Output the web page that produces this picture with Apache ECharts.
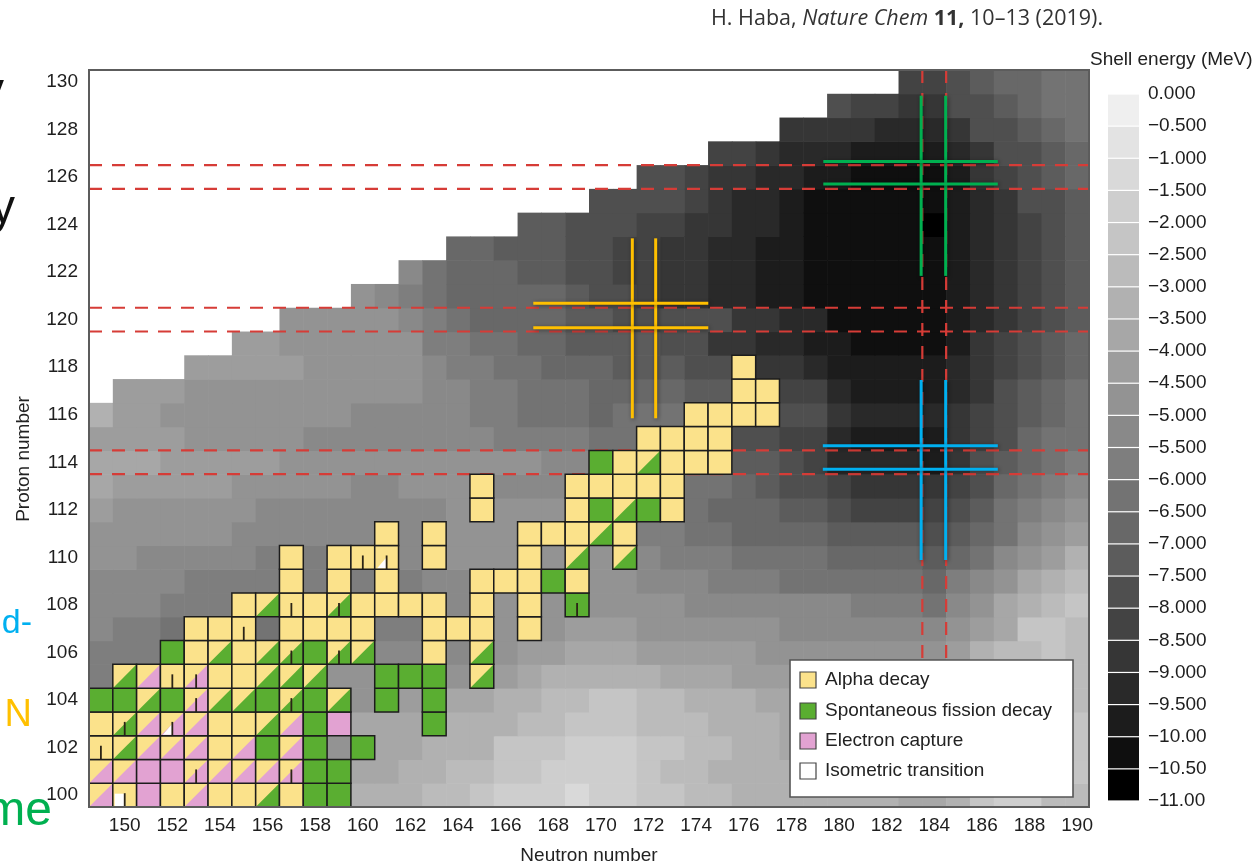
<!DOCTYPE html>
<html><head><meta charset="utf-8">
<script src="https://cdn.jsdelivr.net/npm/echarts@6/dist/echarts.min.js"></script>
<style>html,body{margin:0;padding:0;background:#fff}#chart{width:1258px;height:862px}</style>
</head><body><div id="chart"></div>
<script>
// ---------- DATA ----------
const neutronTicks = [150,152,154,156,158,160,162,164,166,168,170,172,174,176,178,180,182,184,186,188,190];
const protonTicks = [100,102,104,106,108,110,112,114,116,118,120,122,124,126,128,130];
const protonNumbers = [100,101,102,103,104,105,106,107,108,109,110,111,112,113,114,115,116,117,118,119,120,121,122,123,124,125,126,127,128,129,130];
// first neutron number with a computed value in each proton row (cells to the left are blank)
const firstNeutron = [149,149,149,149,149,149,149,149,149,149,149,149,149,149,149,149,149,150,153,155,157,160,162,164,167,170,172,175,178,180,183];
// shell energy (MeV), one row per proton number, starting at firstNeutron
const shellEnergy = [
 /*100*/[-4.6,-4.6,-4.6,-4.5,-4.4,-4.3,-4.2, -4.1,-4.0,-3.8,-3.6,-3.3,-3.2,-3.3, -2.6,-2.6,-2.1,-1.9,-1.9,-1.9,-1.2, -1.7,-1.8,-2.2,-2.4,-2.6,-2.9,-3.2, -3.3,-3.4,-3.4,-3.2,-3.2,-3.2,-3.7, -3.7,-3.0,-2.0,-1.8,-1.8,-2.5,-2.5],
 /*101*/[-4.8,-4.8,-4.8,-4.7,-4.6,-4.5,-4.4, -4.3,-4.2,-4.0,-3.8,-3.5,-3.5,-3.4, -3.3,-2.8,-2.7,-2.2,-2.1,-1.8,-1.7, -1.8,-1.9,-2.2,-2.5,-2.8,-3.0,-3.1, -3.3,-3.4,-3.4,-3.4,-3.3,-3.2,-3.1, -3.0,-2.7,-2.4,-2.2,-2.2,-2.3,-2.4],
 /*102*/[-5.0,-5.0,-5.0,-5.0,-4.9,-4.8,-4.7, -4.6,-4.6,-4.5,-4.5,-4.0,-3.7,-3.7, -3.4,-3.4,-3.3,-2.4,-2.3,-2.1,-1.8, -1.7,-1.8,-2.2,-2.4,-2.7,-2.9,-3.1, -3.3,-3.5,-3.5,-3.5,-3.5,-3.4,-3.3, -3.2,-2.9,-2.6,-2.4,-2.3,-2.2,-2.3],
 /*103*/[-5.3,-5.3,-5.3,-5.2,-5.2,-5.0,-4.9, -4.8,-4.6,-4.4,-4.2,-3.9,-3.9,-3.9, -3.7,-3.4,-3.3,-3.1,-2.7,-2.6,-2.2, -2.1,-2.2,-2.5,-2.7,-2.9,-3.1,-3.3, -3.4,-3.6,-3.7,-3.7,-3.7,-3.6,-3.5, -3.4,-3.1,-2.8,-2.6,-2.4,-2.3,-2.4],
 /*104*/[-5.5,-5.5,-5.5,-5.5,-5.4,-5.3,-5.2, -5.0,-4.9,-4.7,-4.6,-4.5,-4.3,-4.2, -4.0,-3.7,-3.6,-3.1,-3.0,-2.7,-2.6, -2.3,-2.3,-2.6,-2.8,-3.0,-3.1,-3.4, -3.6,-3.9,-4.0,-4.0,-4.0,-4.0,-3.9, -3.8,-3.4,-3.0,-2.7,-2.5,-2.4,-2.5],
 /*105*/[-5.7,-5.8,-5.8,-5.8,-5.8,-5.7,-5.6, -5.5,-5.3,-5.0,-4.6,-4.5,-4.6,-4.6, -4.6,-4.5,-4.3,-4.1,-3.5,-3.4,-3.1, -3.1,-3.2,-3.4,-3.5,-3.6,-3.8,-4.0, -4.2,-4.4,-4.4,-4.4,-4.4,-4.4,-4.3, -4.3,-3.8,-3.2,-2.8,-2.5,-2.4,-2.5],
 /*106*/[-5.7,-5.7,-5.7,-5.8,-5.8,-5.8,-5.9, -5.9,-5.9,-5.8,-5.6,-5.5,-5.3,-5.3, -5.3,-5.2,-4.8,-4.5,-4.3,-4.0,-3.9, -3.8,-3.8,-4.0,-4.0,-4.2,-4.3,-4.4, -4.5,-4.7,-4.8,-4.8,-4.8,-4.8,-4.8, -4.9,-4.3,-3.4,-2.9,-2.5,-2.3,-2.6],
 /*107*/[-5.4,-5.7,-5.7,-6.0,-6.0,-6.0,-6.0, -6.1,-5.9,-5.9,-5.8,-5.8,-5.7,-5.6, -5.4,-5.2,-5.0,-4.9,-4.8,-4.6,-4.4, -4.3,-4.3,-4.5,-4.5,-4.6,-4.8,-4.9, -4.9,-5.0,-5.0,-5.1,-5.2,-5.3,-5.3, -5.3,-4.6,-4.4,-3.5,-2.3,-2.3,-2.7],
 /*108*/[-5.4,-5.4,-5.4,-5.7,-5.7,-5.7,-5.8, -5.8,-5.8,-5.8,-5.8,-5.8,-5.6,-5.5, -5.3,-5.2,-5.0,-4.9,-4.7,-4.5,-4.5, -4.6,-4.6,-4.7,-4.9,-5.0,-5.0,-5.3, -5.4,-5.4,-5.4,-5.4,-5.5,-5.8,-5.9, -6.0,-5.2,-4.6,-3.8,-3.1,-2.6,-2.2],
 /*109*/[-5.0,-5.3,-5.3,-5.3,-5.6,-5.6,-5.9, -5.9,-5.8,-5.7,-5.7,-5.7,-5.6,-5.5, -5.3,-5.0,-4.8,-4.6,-4.5,-4.5,-4.5, -4.8,-4.9,-5.0,-5.4,-5.4,-5.5,-5.5, -5.9,-6.0,-6.0,-6.1,-6.1,-6.3,-6.3, -6.6,-5.8,-5.2,-4.5,-3.8,-3.1,-2.7],
 /*110*/[-4.8,-4.8,-5.1,-5.1,-5.1,-5.4,-5.4, -5.7,-5.7,-5.7,-5.7,-5.7,-5.5,-5.0, -4.8,-4.6,-4.6,-4.6,-4.6,-4.6,-4.7, -4.9,-5.1,-5.4,-5.5,-5.6,-5.9,-6.0, -6.3,-6.4,-6.4,-6.8,-6.8,-6.8,-6.8, -7.1,-6.5,-6.0,-5.2,-4.6,-4.0,-3.4],
 /*111*/[-4.5,-4.5,-4.5,-4.8,-4.8,-4.8,-5.1, -5.1,-5.4,-5.4,-5.4,-5.4,-5.4,-5.0, -4.8,-4.7,-4.7,-4.7,-4.8,-4.8,-4.9, -5.0,-5.2,-5.6,-5.8,-6.1,-6.3,-6.5, -6.7,-6.8,-6.8,-7.2,-7.4,-7.4,-7.4, -7.7,-7.0,-6.6,-6.0,-5.4,-4.8,-4.3],
 /*112*/[-4.2,-4.5,-4.5,-4.5,-4.8,-4.8,-4.8, -5.1,-5.1,-5.1,-5.1,-5.1,-5.4,-5.0, -5.0,-4.7,-4.7,-4.8,-4.8,-4.8,-5.0, -5.2,-5.4,-5.6,-5.8,-6.2,-6.5,-6.7, -6.8,-7.2,-7.3,-7.8,-8.0,-8.0,-8.1, -8.4,-7.5,-7.1,-6.4,-5.8,-5.3,-4.8],
 /*113*/[-3.8,-4.4,-4.4,-4.4,-4.4,-4.4,-4.9, -4.9,-4.9,-4.9,-4.9,-5.1,-5.1,-4.9, -4.9,-4.8,-4.8,-5.0,-5.0,-5.0,-5.2, -5.4,-5.6,-5.8,-6.0,-6.4,-6.4,-6.8, -7.0,-7.5,-7.9,-8.3,-8.6,-8.8,-8.8, -8.9,-8.1,-7.5,-6.8,-6.3,-5.8,-5.3],
 /*114*/[-3.9,-3.9,-3.9,-4.2,-4.2,-4.2,-4.2, -4.2,-4.5,-4.5,-4.5,-4.5,-4.5,-4.8, -4.8,-4.8,-4.8,-4.8,-4.8,-5.2,-5.2, -5.5,-5.7,-6.0,-6.2,-6.4,-6.7,-7.1, -7.3,-7.9,-8.3,-9.1,-9.4,-9.4,-9.4, -9.8,-8.5,-7.7,-7.1,-6.5,-6.0,-5.5],
 /*115*/[-4.2,-4.2,-4.4,-4.4,-4.7,-4.7,-4.7, -4.7,-4.7,-5.0,-5.0,-5.0,-5.0,-5.0, -5.0,-5.2,-5.2,-5.5,-5.5,-5.7,-5.7, -6.1,-6.2,-6.4,-6.6,-6.8,-7.0,-7.5, -7.5,-8.3,-8.3,-9.1,-9.6,-9.6,-9.6, -9.8,-8.8,-8.1,-7.5,-6.8,-6.4,-6.0],
 /*116*/[-3.0,-4.2,-4.2,-4.5,-4.5,-4.5,-4.5, -4.7,-4.7,-4.7,-4.7,-5.0,-5.0,-5.0, -5.0,-5.2,-5.7,-5.7,-6.1,-6.1,-6.4, -6.7,-6.4,-6.4,-6.4,-6.8,-7.0,-7.3, -7.6,-7.9,-7.9,-8.8,-9.4,-9.4,-9.4, -9.4,-8.9,-8.1,-7.7,-7.1,-6.7,-6.2],
 /*117*/[-4.2,-4.2,-4.2,-4.5,-4.5,-4.5,-4.7, -4.7,-4.7,-4.7,-4.7,-4.7,-4.7,-5.0, -5.3,-5.7,-5.8,-6.1,-6.2,-6.4,-6.6, -6.7,-6.8,-6.8,-7.3,-7.3,-7.8,-8.0, -8.3,-8.3,-9.3,-9.6,-9.6,-9.6,-9.6, -9.1,-8.5,-7.9,-7.3,-6.8,-6.4],
 /*118*/[-4.2,-4.2,-4.4,-4.4,-4.4,-4.7,-4.7, -4.7,-4.7,-4.8,-5.1,-5.5,-5.8,-6.2, -6.2,-6.5,-6.6,-6.9,-7.0,-7.1,-7.1, -7.7,-7.7,-8.1,-8.5,-8.5,-9.1,-9.6, -9.6,-9.6,-9.6,-9.6,-9.3,-8.8,-8.1, -7.5,-7.1,-6.7],
 /*119*/[-4.4,-4.4,-4.5,-4.5,-4.7,-4.7,-4.7, -4.9,-5.5,-5.8,-6.2,-6.3,-6.7,-6.7, -7.0,-7.1,-7.4,-7.4,-7.9,-7.9,-8.5, -8.5,-9.1,-9.1,-9.8,-9.9,-10.1,-10.1, -10.1,-10.1,-9.6,-8.9,-8.3,-7.9,-7.3, -6.8],
 /*120*/[-4.5,-4.5,-4.5,-4.8,-4.8,-5.2,-5.7, -6.3,-6.6,-6.7,-6.7,-6.9,-7.1,-7.2, -7.5,-7.5,-7.5,-7.9,-7.9,-8.8,-8.8, -9.4,-9.4,-10.1,-10.4,-10.4,-10.4,-10.4, -9.8,-9.1,-8.5,-8.1,-7.5,-7.1],
 /*121*/[-4.5,-5.0,-5.5,-6.0,-6.7,-6.7,-6.8, -6.8,-6.9,-7.3,-7.5,-7.9,-8.2,-8.5, -8.7,-9.0,-9.2,-9.5,-9.8,-10.0,-10.2, -10.3,-10.3,-10.3,-10.3,-9.8,-9.3,-8.8, -8.3,-7.7,-7.3],
 /*122*/[-5.2,-6.0,-6.7,-6.7,-6.8,-7.1,-7.1, -7.5,-7.7,-8.1,-8.3,-8.5,-8.8,-9.1, -9.3,-9.6,-9.8,-10.1,-10.3,-10.4,-10.4, -10.4,-10.4,-9.9,-9.4,-8.8,-8.4,-7.7, -7.3],
 /*123*/[-6.7,-6.7,-7.1,-7.3,-7.3,-7.5,-7.9, -8.1,-8.1,-8.5,-8.8,-9.1,-9.3,-9.6, -9.8,-10.1,-10.3,-10.4,-10.4,-10.4,-10.4, -9.9,-9.4,-8.8,-8.1,-7.7,-7.3],
 /*124*/[-7.3,-7.3,-7.7,-7.9,-7.9,-8.1,-8.4, -8.8,-8.9,-9.1,-9.4,-9.8,-10.1,-10.2, -10.4,-10.4,-10.4,-10.8,-9.9,-9.4,-8.8, -8.1,-7.5,-7.1],
 /*125*/[-7.5,-7.5,-7.9,-7.9,-8.3,-8.5,-9.1, -9.4,-9.8,-10.1,-10.1,-10.4,-10.4,-10.4, -10.4,-9.9,-9.1,-8.5,-7.9,-7.5,-7.1],
 /*126*/[-7.7,-7.9,-8.3,-8.5,-8.8,-9.1,-9.4, -9.8,-9.9,-10.2,-10.2,-10.3,-10.3,-9.8, -8.8,-8.1,-7.7,-7.3,-6.8],
 /*127*/[-8.1,-8.4,-8.8,-9.1,-9.1,-9.2,-9.6, -9.6,-9.9,-9.8,-9.1,-8.5,-7.9,-7.5, -7.0,-6.7],
 /*128*/[-8.5,-8.5,-8.8,-8.9,-9.0,-9.1,-9.2,-8.5,-7.9,-7.5,-7.0,-6.7,-6.2],
 /*129*/[-7.9,-8.0,-8.1,-8.6,-8.6,-7.8,-7.5,-7.1,-6.8,-6.4,-6.1],
 /*130*/[-8.4,-8.4,-7.5,-7.3,-6.8,-6.7,-6.2,-6.0]
];
// known nuclides: [N, Z, decay mode]  a=alpha, s=spontaneous fission, e=electron capture, as / ae = mixed
const decayCells = [
 [149,100,'ae'],[150,100,'a'],[151,100,'e'],[152,100,'a'],[153,100,'ae'],[154,100,'a'],[155,100,'a'],[156,100,'as'],[157,100,'a'],[158,100,'s'],[159,100,'s'],
 [149,101,'ae'],[150,101,'ae'],[151,101,'e'],[152,101,'e'],[153,101,'ae'],[154,101,'ae'],[155,101,'ae'],[156,101,'ae'],[157,101,'ae'],[158,101,'s'],[159,101,'s'],
 [149,102,'a'],[150,102,'as'],[151,102,'ae'],[152,102,'ae'],[153,102,'ae'],[154,102,'a'],[155,102,'ae'],[156,102,'s'],[157,102,'ae'],[158,102,'s'],[160,102,'s'],
 [149,103,'a'],[150,103,'as'],[151,103,'ae'],[152,103,'ae'],[153,103,'ae'],[154,103,'a'],[155,103,'a'],[156,103,'as'],[157,103,'ae'],[158,103,'s'],[159,103,'e'],[163,103,'s'],
 [149,104,'s'],[150,104,'s'],[151,104,'as'],[152,104,'s'],[153,104,'ae'],[154,104,'as'],[155,104,'as'],[156,104,'s'],[157,104,'as'],[158,104,'s'],[159,104,'as'],[161,104,'s'],[163,104,'s'],
 [150,105,'as'],[151,105,'ae'],[152,105,'a'],[153,105,'ae'],[154,105,'a'],[155,105,'a'],[156,105,'as'],[157,105,'as'],[158,105,'as'],[161,105,'s'],[162,105,'s'],[163,105,'s'],[165,105,'as'],
 [152,106,'s'],[153,106,'a'],[154,106,'as'],[155,106,'a'],[156,106,'as'],[157,106,'as'],[158,106,'s'],[159,106,'as'],[160,106,'as'],[163,106,'a'],[165,106,'as'],
 [153,107,'a'],[154,107,'a'],[155,107,'a'],[157,107,'a'],[158,107,'a'],[159,107,'a'],[160,107,'a'],[163,107,'a'],[164,107,'a'],[165,107,'a'],[167,107,'a'],
 [155,108,'a'],[156,108,'as'],[157,108,'a'],[158,108,'a'],[159,108,'as'],[160,108,'a'],[161,108,'a'],[162,108,'a'],[163,108,'a'],[165,108,'a'],[167,108,'a'],[169,108,'s'],
 [157,109,'a'],[159,109,'a'],[161,109,'a'],[165,109,'a'],[166,109,'a'],[167,109,'a'],[168,109,'s'],[169,109,'a'],
 [157,110,'a'],[159,110,'a'],[160,110,'a'],[161,110,'a'],[163,110,'a'],[167,110,'a'],[169,110,'as'],[171,110,'as'],
 [161,111,'a'],[163,111,'a'],[167,111,'a'],[168,111,'a'],[169,111,'a'],[170,111,'as'],[171,111,'a'],
 [165,112,'a'],[169,112,'a'],[170,112,'s'],[171,112,'as'],[172,112,'s'],[173,112,'a'],
 [165,113,'a'],[169,113,'a'],[170,113,'a'],[171,113,'a'],[172,113,'a'],[173,113,'a'],
 [170,114,'s'],[171,114,'a'],[172,114,'as'],[173,114,'a'],[174,114,'a'],[175,114,'a'],
 [172,115,'a'],[173,115,'a'],[174,115,'a'],[175,115,'a'],
 [174,116,'a'],[175,116,'a'],[176,116,'a'],[177,116,'a'],
 [176,117,'a'],[177,117,'a'],
 [176,118,'a']
];
// isomer markers: [N, Z]
const isomerTicks = [[150,100],[153,101],[157,101],[149,102],[150,103],[152,103],[153,104],[157,104],[152,105],[153,105],[157,106],[159,106],[155,107],[157,108],[159,108],[169,108],[160,110],[161,110]];
const isomerWhiteBox = [[150,100]];
const isomerWhiteCorner = [[152,103],[161,110]];
// magic-number guide lines (dashed)
const guideProton = [113.5,114.5,119.5,120.5,125.5,126.5];
const guideNeutron = [183.5,184.5];
// highlight crosses: segments [N1, Z1, N2, Z2]
const yellowCross = [[171.32,115.85,171.32,123.42],[172.3,115.85,172.3,123.42],[167.16,120.69,174.51,120.69],[167.16,119.66,174.51,119.66]];
const greenCross  = [[183.45,121.84,183.45,129.42],[184.48,121.84,184.48,129.42],[179.34,126.65,186.67,126.65],[179.34,125.7,186.67,125.7]];
const blueCross   = [[183.45,109.89,183.45,117.46],[184.48,109.89,184.48,117.46],[179.32,114.7,186.67,114.7],[179.32,113.71,186.67,113.71]];
// colour scale
const scaleEdges = [0,-0.5,-1,-1.5,-2,-2.5,-3,-3.5,-4,-4.5,-5,-5.5,-6,-6.5,-7,-7.5,-8,-8.5,-9,-9.5,-10,-10.5,-11];
const scaleColors = ['#efefef','#e3e3e3','#d9d9d9','#cecece','#c5c5c5','#bbbbbb','#b1b1b1','#a7a7a7','#9d9d9d','#939393','#898989','#7e7e7e','#737373','#686868','#5c5c5c','#4f4f4f','#434343','#363636','#292929','#1c1c1c','#0f0f0f','#000000'];
const legendLabels = ['Alpha decay','Spontaneous fission decay','Electron capture','Isometric transition'];

// ---------- STYLE / LAYOUT ----------
const FONT = '"Liberation Sans", Arial, Helvetica, sans-serif';
const YELLOW = '#fbe28b', GREEN = '#5aae31', PINK = '#e2a2d2';
const legendColors = [YELLOW, GREEN, PINK, '#ffffff'];
const G = {left: 89, top: 70, width: 1000, height: 737};
const CB = {left: 1108, top: 94, width: 31, height: 707};

const heatData = [];
shellEnergy.forEach((row, i) => row.forEach((v, j) => heatData.push([firstNeutron[i] + j, protonNumbers[i], v])));

const tickSet = new Set(isomerTicks.map(d => d[0] + ':' + d[1]));
const boxSet = new Set(isomerWhiteBox.map(d => d[0] + ':' + d[1]));
const cornerSet = new Set(isomerWhiteCorner.map(d => d[0] + ':' + d[1]));

function renderHeat(params, api) {
  const n = api.value(0), z = api.value(1);
  const p0 = api.coord([n - 0.5, z + 0.5]);
  const p1 = api.coord([n + 0.5, z - 0.5]);
  return {type: 'rect', shape: {x: p0[0], y: p0[1], width: p1[0] - p0[0] + 0.6, height: p1[1] - p0[1] + 0.6},
          style: {fill: api.visual('color')}};
}
function renderNuclide(params, api) {
  const c = decayCells[params.dataIndex];
  const n = c[0], z = c[1], mode = c[2];
  const p0 = api.coord([n - 0.5, z + 0.5]);
  const p1 = api.coord([n + 0.5, z - 0.5]);
  const x0 = p0[0], y0 = p0[1], x1 = p1[0], y1 = p1[1], w = x1 - x0, h = y1 - y0;
  const base = mode === 's' ? GREEN : (mode === 'e' ? PINK : YELLOW);
  const kids = [{type: 'rect', shape: {x: x0, y: y0, width: w, height: h}, style: {fill: base}}];
  if (mode === 'as' || mode === 'ae') {
    kids.push({type: 'polygon', shape: {points: [[x0, y1], [x1, y1], [x1, y0]]}, style: {fill: mode === 'as' ? GREEN : PINK}});
  }
  const key = n + ':' + z;
  if (boxSet.has(key)) kids.push({type: 'rect', shape: {x: x0 + 0.08 * w, y: y0 + 0.44 * h, width: 0.44 * w, height: 0.52 * h}, style: {fill: '#fff'}});
  if (cornerSet.has(key)) kids.push({type: 'polygon', shape: {points: [[x0 + 0.1 * w, y1 - 0.04 * h], [x0 + 0.5 * w, y1 - 0.04 * h], [x0 + 0.5 * w, y0 + 0.5 * h]]}, style: {fill: '#fff'}});
  if (tickSet.has(key)) kids.push({type: 'line', shape: {x1: x0 + 0.5 * w, y1: y0 + 0.42 * h, x2: x0 + 0.5 * w, y2: y1}, style: {stroke: '#2b2416', lineWidth: 1.8}});
  kids.push({type: 'rect', shape: {x: x0, y: y0, width: w, height: h}, style: {fill: 'none', stroke: '#1c1c1c', lineWidth: 1.5}});
  return {type: 'group', children: kids};
}
function makeSegRender(segs, color, dashed) {
  return function (params, api) {
    const s = segs[params.dataIndex];
    const a = api.coord([s[0], s[1]]), b = api.coord([s[2], s[3]]);
    const style = dashed
      ? {stroke: color, lineWidth: 2.2, lineDash: [13, 10]}
      : {stroke: color, lineWidth: 3, shadowBlur: 4, shadowColor: 'rgba(0,0,0,0.45)', shadowOffsetX: 1, shadowOffsetY: 1};
    return {type: 'line', shape: {x1: a[0], y1: a[1], x2: b[0], y2: b[1]}, style: style};
  };
}
const dashSegs = guideProton.map(z => [148.5, z, 190.5, z]).concat(guideNeutron.map(n => [n, 130.5, n, 99.5]));
function segSeries(segs, color, dashed, z) {
  return {type: 'custom', xAxisIndex: 0, yAxisIndex: 0, silent: true, z: z,
          data: segs.map(s => [s[0], s[1]]), renderItem: makeSegRender(segs, color, dashed)};
}
function fmtScale(v) {
  if (v === 0) return '0.000';
  const a = Math.abs(v);
  return '\u2212' + (a < 10 ? a.toFixed(3) : a.toFixed(2));
}

const pieces = scaleColors.map((c, i) => i === scaleColors.length - 1
  ? {gte: scaleEdges[i + 1], lte: scaleEdges[i], color: c}
  : {gt: scaleEdges[i + 1], lte: scaleEdges[i], color: c});

const graphics = [
  {type: 'rect', z: 100, silent: true, shape: {x: G.left, y: G.top, width: G.width, height: G.height}, style: {fill: 'none', stroke: '#5c5c5c', lineWidth: 2}},
  {type: 'rect', z: 101, shape: {x: 790, y: 660, width: 283, height: 137}, style: {fill: '#fff', stroke: '#555', lineWidth: 1.6}},
  {type: 'text', z: 101, x: 24, y: 459, rotation: Math.PI / 2, style: {text: 'Proton number', font: '19px ' + FONT, fill: '#222', textAlign: 'center', textVerticalAlign: 'middle'}},
  {type: 'text', z: 101, x: 1090, y: 60, style: {text: 'Shell energy (MeV)', font: '19px ' + FONT, fill: '#222', textAlign: 'left', textVerticalAlign: 'middle'}},
  {type: 'text', z: 101, x: 711, y: 19, style: {
      text: '{n|H. Haba, }{i|Nature Chem}{n| }{b|11,}{n| 10\u201313 (2019).}',
      textAlign: 'left', textVerticalAlign: 'middle',
      rich: {n: {fontFamily: '"Open Sans", sans-serif', fontSize: 21.5, fill: '#333'},
             i: {fontFamily: '"Open Sans", sans-serif', fontSize: 21.5, fontStyle: 'italic', fill: '#333'},
             b: {fontFamily: '"Open Sans", sans-serif', fontSize: 21.5, fontWeight: 'bold', fill: '#333'}}}},
  // clipped slide text at the left edge
  {type: 'text', z: 101, x: 4, y: 93, style: {text: 'y', font: '48px ' + FONT, fill: '#111', textAlign: 'right', textVerticalAlign: 'middle'}},
  {type: 'text', z: 101, x: 15, y: 210, style: {text: 'y', font: '48px ' + FONT, fill: '#111', textAlign: 'right', textVerticalAlign: 'middle'}},
  {type: 'text', z: 101, x: 32, y: 624, style: {text: 'd-', font: '34px ' + FONT, fill: '#00b0f0', textAlign: 'right', textVerticalAlign: 'middle'}},
  {type: 'text', z: 101, x: 32, y: 716, style: {text: 'N', font: '38px ' + FONT, fill: '#ffc000', textAlign: 'right', textVerticalAlign: 'middle'}},
  {type: 'text', z: 101, x: 52, y: 812, style: {text: 'me', font: '48px ' + FONT, fill: '#00b050', textAlign: 'right', textVerticalAlign: 'middle'}}
];
const legendY = [680, 711, 741, 771];
legendLabels.forEach((t, i) => {
  graphics.push({type: 'rect', z: 102, shape: {x: 800, y: legendY[i] - 8, width: 16, height: 16}, style: {fill: legendColors[i], stroke: '#444', lineWidth: 1.2}});
  graphics.push({type: 'text', z: 102, x: 825, y: legendY[i], style: {text: t, font: '19px ' + FONT, fill: '#222', textAlign: 'left', textVerticalAlign: 'middle'}});
});

const chart = echarts.init(document.getElementById('chart'), null, {renderer: 'canvas'});
chart.setOption({
  animation: false,
  backgroundColor: '#ffffff',
  textStyle: {fontFamily: FONT},
  grid: [
    {left: G.left, top: G.top, width: G.width, height: G.height, containLabel: false, outerBoundsMode: 'none'},
    {left: CB.left, top: CB.top, width: CB.width, height: CB.height, containLabel: false, outerBoundsMode: 'none'}
  ],
  xAxis: [
    {gridIndex: 0, type: 'value', min: 148.5, max: 190.5,
     axisLine: {show: false}, axisTick: {show: false}, splitLine: {show: false},
     axisLabel: {customValues: neutronTicks, fontSize: 19, color: '#1e1e1e', margin: 9},
     name: 'Neutron number', nameLocation: 'middle', nameGap: 39,
     nameTextStyle: {fontSize: 19, color: '#222'}},
    {gridIndex: 1, type: 'value', min: 0, max: 1, show: false}
  ],
  yAxis: [
    {gridIndex: 0, type: 'value', min: 99.5, max: 130.5,
     axisLine: {show: false}, axisTick: {show: false}, splitLine: {show: false},
     axisLabel: {customValues: protonTicks, fontSize: 19, color: '#1e1e1e', margin: 11}},
    {gridIndex: 1, type: 'value', min: -11, max: 0, interval: 0.5, position: 'right',
     axisLine: {show: false}, axisTick: {show: false}, splitLine: {show: false},
     axisLabel: {formatter: fmtScale, fontSize: 19, color: '#1e1e1e', margin: 9, showMinLabel: true, showMaxLabel: true}}
  ],
  visualMap: {type: 'piecewise', show: false, seriesIndex: 0, dimension: 2, pieces: pieces},
  series: [
    {type: 'custom', name: 'Shell energy', xAxisIndex: 0, yAxisIndex: 0, silent: true, z: 1,
     encode: {x: 0, y: 1}, data: heatData, renderItem: renderHeat},
    segSeries(dashSegs, '#d63c37', true, 3),
    {type: 'custom', name: 'Nuclides', xAxisIndex: 0, yAxisIndex: 0, silent: true, z: 4,
     encode: {x: 0, y: 1}, data: decayCells.map(c => [c[0], c[1]]), renderItem: renderNuclide},
    segSeries(yellowCross, '#ffc000', false, 5),
    segSeries(greenCross, '#00b050', false, 5),
    segSeries(blueCross, '#00b0f0', false, 5),
    {type: 'custom', name: 'Scale', xAxisIndex: 1, yAxisIndex: 1, silent: true, z: 2,
     data: scaleColors.map((c, i) => [0, scaleEdges[i]]),
     renderItem: function (params, api) {
       const i = params.dataIndex;
       const a = api.coord([0, scaleEdges[i]]), b = api.coord([1, scaleEdges[i + 1]]);
       return {type: 'rect', shape: {x: a[0], y: a[1] + 0.6, width: b[0] - a[0], height: b[1] - a[1] - 1.2},
               style: {fill: scaleColors[i]}};
     }}
  ],
  graphic: graphics
});
</script></body></html>
